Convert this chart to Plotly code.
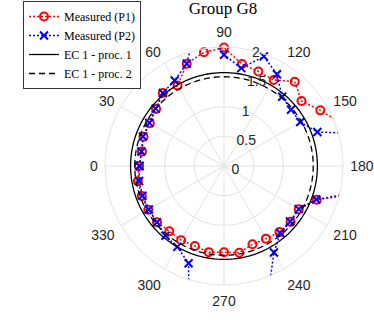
import numpy as np
import plotly.graph_objects as go

# ---- data ----
angles_deg = [0, 10, 20, 30, 40, 50, 60, 70, 80, 90, 100, 110, 120, 130, 140, 150, 160, 170,
              180, 190, 200, 210, 220, 230, 240, 250, 260, 270, 280, 290, 300, 310, 320, 330, 340, 350]
p1_values = [1.43, 1.40, 1.44, 1.44, 1.49, 1.60, 1.56, 1.83, 1.94, 1.99, 1.74, 1.69, 1.67, 1.85,
             1.70, 1.87, 2.10, 2.30, 2.50, 2.50, 1.66, 1.45, 1.46, 1.45, 1.41, 1.40, 1.48, 1.45,
             1.47, 1.43, 1.44, 1.43, 1.47, 1.47, 1.47, 1.47]
p2_values = [1.42, 1.41, 1.45, 1.45, 1.50, 1.60, 1.66, 1.83, 2.50, 1.87, 1.67, 1.96, 1.78, 1.52,
             1.47, 1.48, 1.67, 3.00, 2.80, 2.40, 1.65, 1.45, 1.45, 1.47, 1.68, 2.20, 2.80, 3.20,
             3.40, 1.74, 1.57, 1.53, 1.47, 1.46, 1.46, 1.45]
ec1_proc1_value = 1.57
ec1_proc2_value = 1.50
radial_ticks = [0, 0.5, 1, 1.5, 2]
radial_ticktext = ["0", "0.5", "1", "1.5", "2"]
angular_ticks = [0, 30, 60, 90, 120, 150, 180, 210, 240, 270, 300, 330]

theta_closed = angles_deg + [360]
ec_theta = np.linspace(0, 360, 181)

fig = go.Figure()
fig.add_trace(go.Scatterpolar(
    r=p1_values + [p1_values[0]], theta=theta_closed, mode="lines+markers",
    name="Measured (P1)",
    line=dict(color="#ff0000", width=1.5, dash="2px,2px"),
    marker=dict(symbol="circle-open", size=8, color="#ff0000", line=dict(width=2, color="#ff0000")),
))
fig.add_trace(go.Scatterpolar(
    r=p2_values + [p2_values[0]], theta=theta_closed, mode="lines+markers",
    name="Measured (P2)",
    line=dict(color="#0000ff", width=1.5, dash="2px,2px"),
    marker=dict(symbol="x-thin-open", size=8, color="#0000ff", line=dict(width=2, color="#0000ff")),
))
fig.add_trace(go.Scatterpolar(
    r=[ec1_proc1_value] * len(ec_theta), theta=ec_theta, mode="lines",
    name="EC 1 - proc. 1", line=dict(color="#000000", width=1.3),
))
fig.add_trace(go.Scatterpolar(
    r=[ec1_proc2_value] * len(ec_theta), theta=ec_theta, mode="lines",
    name="EC 1 - proc. 2", line=dict(color="#000000", width=1.3, dash="6px,4px"),
))

grid = "#e3e3e3"
fig.update_layout(
    width=374, height=322,
    margin=dict(l=0, r=0, t=0, b=0),
    paper_bgcolor="white",
    plot_bgcolor="white",
    title=dict(text="Group G8", x=223 / 374, xanchor="center", y=1 - 2 / 322, yanchor="top",
               font=dict(family="Liberation Serif", size=17, color="#000000")),
    polar=dict(
        domain=dict(x=[105 / 374, 343 / 374], y=[37 / 322, 275 / 322]),
        bgcolor="white",
        angularaxis=dict(
            rotation=180, direction="clockwise",
            tickmode="array", tickvals=angular_ticks,
            ticktext=[str(a) for a in angular_ticks],
            ticks="outside", ticklen=4, tickcolor="rgba(0,0,0,0)",
            showline=True, linecolor=grid, linewidth=1,
            gridcolor=grid, gridwidth=1,
            tickfont=dict(family="Liberation Sans", size=14, color="#262626"),
        ),
        radialaxis=dict(
            range=[0, 2], tickmode="array", tickvals=radial_ticks, ticktext=radial_ticktext,
            angle=80, tickangle=80, ticks="", showline=False,
            gridcolor=grid, gridwidth=1,
            tickfont=dict(family="Liberation Sans", size=14, color="#262626"),
        ),
    ),
    showlegend=True,
    legend=dict(
        x=23 / 374, y=1 - 1 / 322, xanchor="left", yanchor="top",
        bgcolor="white", bordercolor="#333333", borderwidth=1,
        font=dict(family="Liberation Serif", size=12, color="#000000"),
        tracegroupgap=0, itemwidth=30,
    ),
)

fig.write_html("out.html", config={"displayModeBar": False},
               post_script="document.body.style.margin='0px';")
